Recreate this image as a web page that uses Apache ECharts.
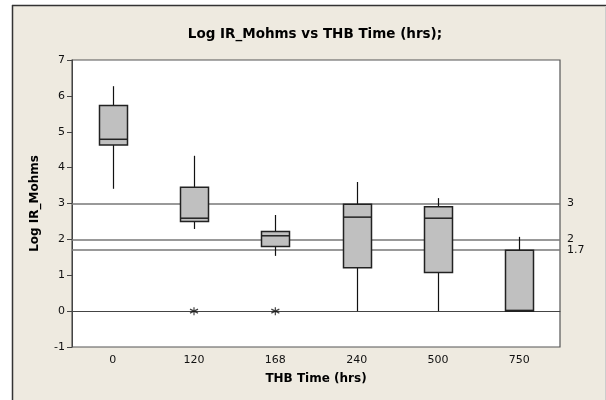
<!DOCTYPE html>
<html>
<head>
<meta charset="utf-8">
<script src="https://cdn.jsdelivr.net/npm/echarts@6/dist/echarts.min.js"></script>
<style>
  html, body { margin: 0; padding: 0; background: #fff; }
  #chart { width: 606px; height: 400px; }
</style>
</head>
<body>
<div id="chart"></div>
<script>
// THB time groups
const categories = ['0', '120', '168', '240', '500', '750']
// box stats: [min whisker, Q1, median, Q3, max whisker]
const boxStats = [
  [3.41, 4.63, 4.79, 5.73, 6.27],
  [2.29, 2.50, 2.59, 3.45, 4.33],
  [1.54, 1.80, 2.10, 2.22, 2.68],
  [0.00, 1.21, 2.62, 2.98, 3.60],
  [0.00, 1.08, 2.59, 2.91, 3.15],
  [0.00, 0.00, 0.02, 1.70, 2.07]
]
// outliers: [category index, value]
const outliers = [[1, 0], [2, 0]]
// reference lines
const refLines = [3, 2, 1.7]

const font = '"DejaVu Sans", sans-serif'
const chart = echarts.init(document.getElementById('chart'))

// draws one box without whisker caps
function renderBox(params, api) {
  const x = api.value(0)
  const lo = api.coord([x, api.value(1)])
  const q1 = api.coord([x, api.value(2)])
  const med = api.coord([x, api.value(3)])
  const q3 = api.coord([x, api.value(4)])
  const hi = api.coord([x, api.value(5)])
  const half = 14
  const cx = Math.round(lo[0]) + 0.5
  const line = { stroke: '#111', lineWidth: 1.2 }
  return {
    type: 'group',
    children: [
      { type: 'line', shape: { x1: cx, y1: hi[1], x2: cx, y2: q3[1] }, style: line },
      { type: 'line', shape: { x1: cx, y1: q1[1], x2: cx, y2: lo[1] }, style: line },
      {
        type: 'rect',
        shape: { x: cx - half, y: q3[1], width: half * 2, height: Math.max(q1[1] - q3[1], 1) },
        style: { fill: '#c0c0c0', stroke: '#222', lineWidth: 1.5 }
      },
      { type: 'line', shape: { x1: cx - half, y1: med[1], x2: cx + half, y2: med[1] }, style: { stroke: '#222', lineWidth: 1.5 } }
    ]
  }
}

const option = {
  animation: false,
  backgroundColor: '#fff',
  graphic: [
    { type: 'rect', shape: { x: 12, y: 5, width: 594, height: 395 }, style: { fill: '#eeeae0' }, z: -10 },
    { type: 'line', shape: { x1: 12.5, y1: 5, x2: 12.5, y2: 400 }, style: { stroke: '#333', lineWidth: 1.5 }, z: -9 },
    { type: 'line', shape: { x1: 12, y1: 5.5, x2: 606, y2: 5.5 }, style: { stroke: '#333', lineWidth: 1.5 }, z: -9 },
    { type: 'line', shape: { x1: 605.5, y1: 6, x2: 605.5, y2: 400 }, style: { stroke: '#ccc', lineWidth: 1 }, z: -9 }
  ],
  title: {
    text: 'Log IR_Mohms vs THB Time (hrs);',
    left: 310,
    top: 22,
    textAlign: 'center',
    textStyle: { fontFamily: font, fontSize: 13.5, fontWeight: 'bold', color: '#000' }
  },
  grid: {
    left: 72, right: 46, top: 60, bottom: 53,
    show: true, backgroundColor: '#fff', borderColor: '#555', borderWidth: 1.2
  },
  xAxis: {
    type: 'category',
    data: categories,
    name: 'THB Time (hrs)',
    nameLocation: 'middle',
    nameGap: 26,
    nameTextStyle: { fontFamily: font, fontSize: 12, fontWeight: 'bold', color: '#000' },
    axisLine: { lineStyle: { color: '#444' } },
    axisTick: { alignWithLabel: true, length: 5, lineStyle: { color: '#444' } },
    axisLabel: { fontFamily: font, fontSize: 11, color: '#111', margin: 8 },
    splitLine: { show: false }
  },
  yAxis: {
    type: 'value',
    min: -1,
    max: 7,
    interval: 1,
    name: 'Log IR_Mohms',
    nameLocation: 'middle',
    nameGap: 31,
    nameTextStyle: { fontFamily: font, fontSize: 12, fontWeight: 'bold', color: '#000' },
    axisLine: { show: true, lineStyle: { color: '#444' } },
    axisTick: { show: true, length: 5, lineStyle: { color: '#444' } },
    axisLabel: { fontFamily: font, fontSize: 11, color: '#111', margin: 7 },
    splitLine: { show: false }
  },
  series: [
    {
      type: 'custom',
      renderItem: renderBox,
      encode: { x: 0, y: [1, 2, 3, 4, 5] },
      data: boxStats.map((d, i) => [i].concat(d)),
      z: 3,
      markLine: {
        silent: true,
        symbol: 'none',
        lineStyle: { color: '#777', type: 'solid', width: 1.5 },
        label: {
          position: 'end', distance: 7, fontFamily: font, fontSize: 11, color: '#111',
          formatter: p => String(p.value)
        },
        data: refLines.map(v => ({ yAxis: v })),
        z: 1
      }
    },
    {
      type: 'scatter',
      data: outliers,
      symbol: 'path://M0,-5L0,5M-4.33,-2.5L4.33,2.5M-4.33,2.5L4.33,-2.5',
      symbolSize: 8,
      itemStyle: { color: 'none', borderColor: '#111', borderWidth: 1.2 },
      z: 4
    }
  ]
}
chart.setOption(option)
</script>
</body>
</html>
